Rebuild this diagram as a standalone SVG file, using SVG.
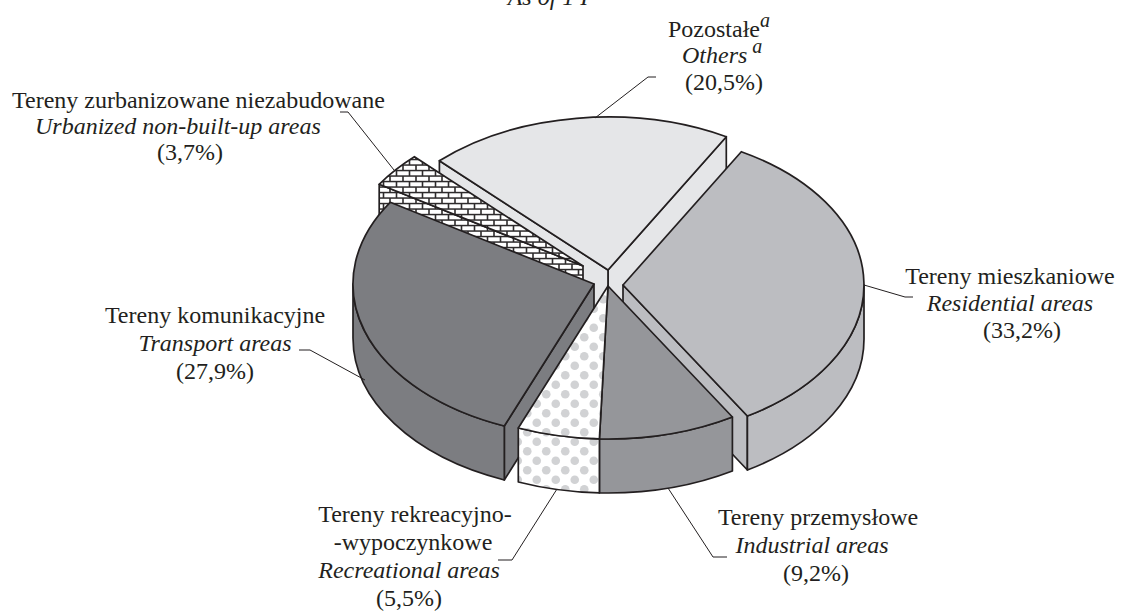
<svg xmlns="http://www.w3.org/2000/svg" width="1139" height="615" viewBox="0 0 1139 615">
<style>
.e{stroke:#231f20;stroke-width:1.7;stroke-linejoin:round}
.ld{fill:none;stroke:#231f20;stroke-width:1}
text{font-family:"Liberation Serif","Times New Roman",serif;font-size:24px;fill:#231f20}
.it{font-style:italic}
.c{text-anchor:middle}
.oth{fill:#e5e6e8}.res{fill:#bcbdc1}.ind{fill:#95969a}.tra{fill:#7c7d81}
</style>
<defs>
<pattern id="dots" width="19" height="19" patternUnits="userSpaceOnUse">
<rect width="19" height="19" fill="#fff"/>
<circle cx="4.75" cy="4.75" r="4.3" fill="#d1d2d4"/>
<circle cx="14.25" cy="14.25" r="4.3" fill="#d1d2d4"/>
</pattern>
<pattern id="brick" width="13" height="11" patternUnits="userSpaceOnUse">
<rect width="13" height="11" fill="#2e2b2c"/>
<rect x="0.8" y="0.8" width="11.4" height="4" fill="#fff"/>
<rect x="-5.7" y="6.3" width="11.4" height="4" fill="#fff"/>
<rect x="7.3" y="6.3" width="11.4" height="4" fill="#fff"/>
</pattern>
</defs>

<text class="it" x="548" y="5" text-anchor="middle">As of 1 I</text>

<g id="others">
<polygon class="e oth" points="608,270 726.3,136.7 726.3,190.7 608,324"/>
<polygon class="e oth" points="608,270 439.4,160.7 439.4,214.7 608,324"/>
<path class="e oth" d="M608,270 L439.4,160.7 A241,153 0 0 1 726.3,136.7 Z"/>
</g>

<g id="urbanized">
<polygon class="e" fill="url(#brick)" points="583,266 379.2,184.3 379.2,238.3 583,320"/>
<path class="e" fill="url(#brick)" d="M583,266 L379.2,184.3 A241,153 0 0 1 414.4,156.7 Z"/>
</g>

<g id="transport">
<polygon class="e tra" points="594,284 504.3,426 504.3,480 594,338"/>
<path class="e tra" d="M504.3,426 A241,153 0 0 1 353,284 L353,338 A241,153 0 0 0 504.3,480 Z"/>
<path class="e tra" d="M594,284 L504.3,426 A241,153 0 0 1 390.2,202.3 Z"/>
</g>

<g id="residential">
<polygon class="e res" points="623,285 747.4,416 747.4,470 623,339"/>
<path class="e res" d="M864,285 A241,153 0 0 1 747.4,416 L747.4,470 A241,153 0 0 0 864,339 Z"/>
<path class="e res" d="M623,285 L741.3,151.7 A241,153 0 0 1 747.4,416 Z"/>
</g>

<g id="industrial">
<path class="e ind" d="M732.4,417 A241,153 0 0 1 599.4,438.9 L599.4,492.9 A241,153 0 0 0 732.4,471 Z"/>
<path class="e ind" d="M608,286 L732.4,417 A241,153 0 0 1 599.4,438.9 Z"/>
</g>

<g id="recreational">
<path class="e" fill="url(#dots)" d="M599.4,438.9 A241,153 0 0 1 518.3,428 L518.3,482 A241,153 0 0 0 599.4,492.9 Z"/>
<path class="e" fill="url(#dots)" d="M608,286 L599.4,438.9 A241,153 0 0 1 518.3,428 Z"/>
</g>

<g id="connectors">
<polyline class="ld" points="595,118 648,77 656,77"/>
<polyline class="ld" points="340,112 348,112 394,170"/>
<polyline class="ld" points="299,350 310,350 365,380"/>
<polyline class="ld" points="557,489 512,560 498,560"/>
<polyline class="ld" points="668,488 713,557 727,557"/>
<polyline class="ld" points="864,285 905,297 913,297"/>
</g>

<g id="label-others">
<text x="668" y="37">Pozostałe<tspan class="it" font-size="20" dy="-10">a</tspan></text>
<text x="682" y="63" class="it">Others<tspan font-size="20" dy="-10"> a</tspan></text>
<text x="685" y="90">(20,5%)</text>
</g>
<g id="label-urbanized">
<text x="12" y="108">Tereny zurbanizowane niezabudowane</text>
<text x="35" y="134" class="it">Urbanized non-built-up areas</text>
<text x="190" y="160" class="c">(3,7%)</text>
</g>
<g id="label-transport">
<text x="215" y="323" class="c">Tereny komunikacyjne</text>
<text x="215" y="351" class="c it">Transport areas</text>
<text x="215" y="379" class="c">(27,9%)</text>
</g>
<g id="label-residential">
<text x="1010" y="284" class="c">Tereny mieszkaniowe</text>
<text x="1010" y="311" class="c it">Residential areas</text>
<text x="1022" y="338" class="c">(33,2%)</text>
</g>
<g id="label-industrial">
<text x="818" y="525" class="c">Tereny przemysłowe</text>
<text x="812" y="553" class="c it">Industrial areas</text>
<text x="816" y="581" class="c">(9,2%)</text>
</g>
<g id="label-recreational">
<text x="415" y="522" class="c">Tereny rekreacyjno-</text>
<text x="413" y="550" class="c">-wypoczynkowe</text>
<text x="409" y="578" class="c it">Recreational areas</text>
<text x="409" y="606" class="c">(5,5%)</text>
</g>
</svg>
